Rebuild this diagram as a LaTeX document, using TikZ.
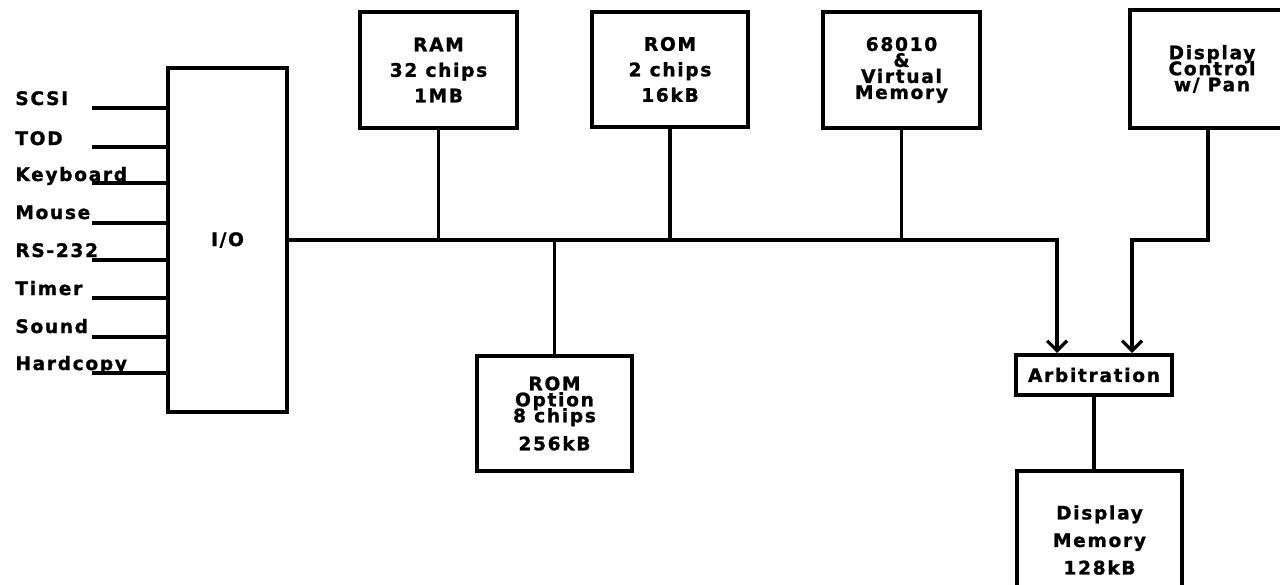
\documentclass[tikz,border=0pt]{standalone}
\usepackage{fontspec}
\setmainfont{DejaVu Sans}[LetterSpace=9, BoldFont=DejaVu Sans Bold, BoldFeatures={FakeBold=1.2}]
\usetikzlibrary{arrows.meta}
\setlength{\lineskiplimit}{-10pt}
\tikzstyle{unit} = [
    rectangle,
    draw=black,
    line width=2pt,
    align=center,
    inner sep=0pt,
    font={\bfseries\fontsize{9.3pt}{12.75pt}\selectfont}
]
\tikzstyle{tight} = [
    font={\bfseries\fontsize{9.3pt}{8pt}\selectfont}
]
\tikzstyle{signal} = [
    anchor=base west,
    inner sep=0pt,
    font={\bfseries\fontsize{9.3pt}{10pt}\selectfont}
]
\tikzstyle{line} = [line width=1.6pt]
\tikzstyle{arrow} = [line width=1.6pt,-{Straight Barb[length=5pt,width=10pt]}]
\begin{document}
\begin{tikzpicture}[x=0.5pt,y=-0.5pt]
\path[use as bounding box, fill=white] (0,0) rectangle (1280,584);

\node (io) [unit, minimum width=59.5pt, minimum height=172pt] at (227.5,240) {I/O};

\node (ram) [unit, minimum width=78.5pt, minimum height=58pt] at (438.5,70)
{RAM\\32 chips\\1MB};

\node (rom) [unit, minimum width=78pt, minimum height=57.5pt] at (670,69.5)
{ROM\\2 chips\\16kB};

\node (cpu) [unit, tight, minimum width=78.5pt, minimum height=58pt] at (901.5,70)
{68010\\\&\\Virtual\\Memory};

\node (ctrl) [unit, tight, minimum width=82pt, minimum height=59pt] at (1212,69)
{Display\\Control\\w/ Pan};

\node (romopt) [unit, tight, minimum width=77.5pt, minimum height=57.5pt] at (554.5,413.5)
{ROM\\Option\\8 chips\\[6pt]256kB};

\node (arb) [unit, minimum width=78pt, minimum height=20pt] at (1094,375)
{Arbitration};

\node (dmem) [unit, font={\bfseries\fontsize{9.3pt}{13.75pt}\selectfont}, minimum width=82.5pt, minimum height=69pt] at (1099.5,540)
{Display\\Memory\\128kB};

\node (scsi) [signal] at (15,105) {SCSI};
\node (tod) [signal] at (15,145) {TOD};
\node (kbd) [signal] at (15,181) {Keyboard};
\node (mouse) [signal] at (15,219) {Mouse};
\node (rs) [signal] at (15,257) {RS-232};
\node (timer) [signal] at (15,295) {Timer};
\node (sound) [signal] at (15,333) {Sound};
\node (hcopy) [signal] at (15,370) {Hardcopy};

\coordinate (scsi-in) at (92,108);
\coordinate (tod-in) at (92,147);
\coordinate (kbd-in) at (92,183);
\coordinate (mouse-in) at (92,223);
\coordinate (rs-in) at (92,260);
\coordinate (timer-in) at (92,298);
\coordinate (sound-in) at (92,337);
\coordinate (hcopy-in) at (92,373);
\coordinate (ctrlbend) at (1132,240);

\draw [line] (scsi-in) -- (scsi-in -| io.west);
\draw [line] (tod-in) -- (tod-in -| io.west);
\draw [line] (kbd-in) -- (kbd-in -| io.west);
\draw [line] (mouse-in) -- (mouse-in -| io.west);
\draw [line] (rs-in) -- (rs-in -| io.west);
\draw [line] (timer-in) -- (timer-in -| io.west);
\draw [line] (sound-in) -- (sound-in -| io.west);
\draw [line] (hcopy-in) -- (hcopy-in -| io.west);

\draw [arrow] (io.east) -| ([xshift=-18.5pt]arb.north);
\draw [line] (ram.south) -- (ram.south |- io.east);
\draw [line] (rom.south) -- (rom.south |- io.east);
\draw [line] (cpu.south) -- (cpu.south |- io.east);
\draw [line] (romopt.north) -- (romopt.north |- io.east);
\draw [arrow] ([xshift=-2pt]ctrl.south) |- (ctrlbend) -| ([xshift=19pt]arb.north);
\draw [line] (arb.south) -- (arb.south |- dmem.north);

\end{tikzpicture}
\end{document}
